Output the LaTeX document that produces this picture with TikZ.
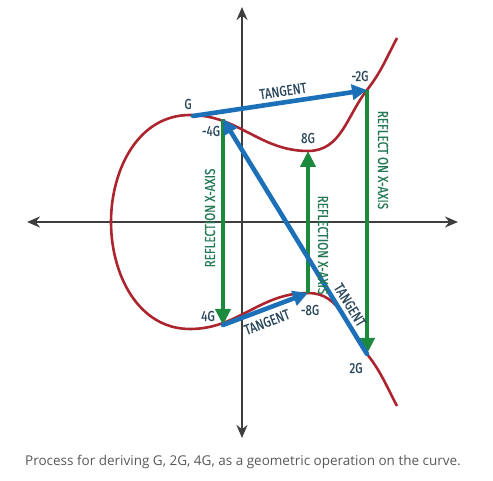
\documentclass[tikz,border=0pt]{standalone}
\usepackage{fontspec}
\setsansfont{Fira Sans}[FakeStretch=0.8,FakeBold=0.4]
\newfontfamily\captionfont{Open Sans}
\usetikzlibrary{arrows.meta}

\definecolor{axisgray}{RGB}{62,62,62}
\definecolor{curvered}{RGB}{172,36,46}
\definecolor{tanblue}{RGB}{28,112,184}
\definecolor{refgreen}{RGB}{28,138,60}
\definecolor{labelslate}{RGB}{42,72,92}
\definecolor{reftext}{RGB}{36,120,84}
\definecolor{captiongray}{RGB}{88,88,88}

\tikzset{
  axis/.style={draw=axisgray, line width=2.6pt,
    {Stealth[length=13pt,width=11pt]}-{Stealth[length=13pt,width=11pt]}},
  curve/.style={draw=curvered, line width=2.6pt},
  tangent/.style={draw=tanblue, line width=4.6pt, line cap=round,
    -{Triangle[length=15pt,width=15pt]}},
  reflect/.style={draw=refgreen, line width=4.6pt,
    -{Triangle[length=16pt,width=15pt]}},
  ptlabel/.style={text=labelslate, inner sep=0pt,
    font=\sffamily\fontsize{14.5}{15}\selectfont},
  reflabel/.style={text=reftext, inner sep=0pt,
    font=\sffamily\fontsize{14.5}{15}\selectfont}
}

\begin{document}
\begin{tikzpicture}[x=1pt,y=1pt]
    \useasboundingbox (-242,-259) rectangle (251,222);

    % points on the curve
    \coordinate (G) at (-49,106);
    \coordinate (m4G) at (-19,103);
    \coordinate (8G) at (66,71);
    \coordinate (m2G) at (125,132);
    \coordinate (4G) at (-19,-103);
    \coordinate (m8G) at (66,-71);
    \coordinate (2G) at (125,-132);

    % Draw the axis
    \coordinate (xl) at (-215,0);
    \coordinate (xr) at (216,0);
    \coordinate (yt) at (0,215);
    \coordinate (yb) at (0,-216);
    \draw[axis] (xl) -- (xr);
    \draw[axis] (yb) -- (yt);

    % the curve, upper and lower half
    \draw[curve] (-131,0) to[out=90,in=180] (-52,107) to[out=0,in=180] (8G)
        to[out=0,in=232] (m2G) to[out=52,in=242] (155,184);
    \draw[curve] (-131,0) to[out=-90,in=180] (-52,-107) to[out=0,in=180] (m8G)
        to[out=0,in=128] (2G) to[out=-52,in=118] (155,-184);

    % reflections
    \draw[reflect] (m4G) -- (4G);
    \draw[reflect] (m8G) -- (8G);
    \draw[reflect] (m2G) -- (2G);

    % tangents
    \draw[tangent] (G) -- (m2G);
    \draw[tangent] (4G) -- (m8G);
    \draw[tangent] (2G) -- (m4G);

    \node[ptlabel] (lG) at (-54,118) {G};
    \node[ptlabel] (lm4G) at (-31,91) {-4G};
    \node[ptlabel] (l8G) at (66,84) {8G};
    \node[ptlabel] (lm2G) at (118,146) {-2G};
    \node[ptlabel] (l4G) at (-34,-94) {4G};
    \node[ptlabel] (lm8G) at (68,-88) {-8G};
    \node[ptlabel] (l2G) at (114,-146) {2G};

    \node[ptlabel, rotate=8.5] (tan1) at (41,131) {TANGENT};
    \node[ptlabel, rotate=21] (tan2) at (25,-100) {TANGENT};
    \node[ptlabel, rotate=-58.5] (tan3) at (108,-83) {TANGENT};

    \node[reflabel, rotate=90] (ref1) at (-32,4) {REFLECTION X-AXIS};
    \node[reflabel, rotate=-90] (ref2) at (81,-23) {REFLECTION X-AXIS};
    \node[reflabel, rotate=-90] (ref3) at (141,62) {REFLECT ON X-AXIS};

    \node[text=captiongray, inner sep=0pt, font=\captionfont\fontsize{13.5}{15}\selectfont]
        (caption) at (1,-240) {Process for deriving G, 2G, 4G, as a geometric operation on the curve.};
\end{tikzpicture}
\end{document}
